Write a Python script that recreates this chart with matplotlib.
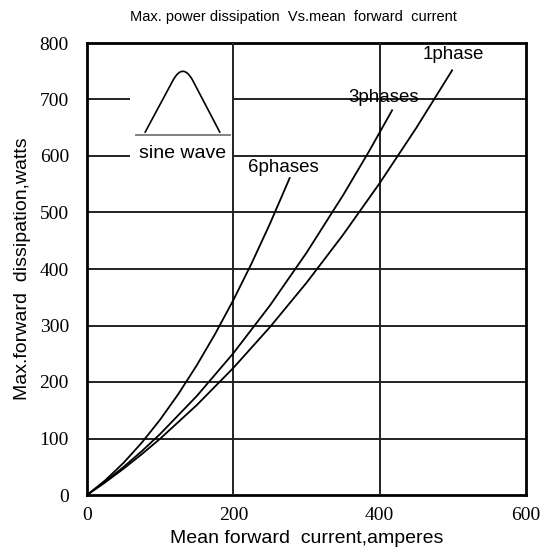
import matplotlib.pyplot as plt
from matplotlib.patches import PathPatch, Rectangle
from matplotlib.path import Path

# current (A) vs max forward dissipation (W)
i_1ph = [0, 25, 50, 75, 100, 150, 200, 250, 300, 350, 400, 450, 499]
p_1ph = [0, 22.5, 46.6, 72.4, 99.7, 159.1, 224.9, 297.1, 375.6, 460.6, 551.9, 649.6, 751.6]

i_3ph = [0, 25, 50, 75, 100, 150, 200, 250, 300, 350, 385, 417]
p_3ph = [0, 23.7, 49.7, 77.7, 108.0, 175.1, 250.9, 335.4, 428.7, 530.6, 607.2, 680.9]

i_6ph = [0, 25, 50, 75, 100, 125, 150, 175, 200, 225, 250, 277]
p_6ph = [0, 26.0, 57.0, 92.8, 133.5, 179.0, 229.5, 284.8, 345.0, 410.0, 480.0, 561.0]

x_ticks = [0, 200, 400, 600]
y_ticks = [0, 100, 200, 300, 400, 500, 600, 700, 800]

plt.rcParams['font.family'] = ['Liberation Sans', 'DejaVu Sans']

fig = plt.figure(figsize=(5.41, 5.58), dpi=100)
ax = fig.add_axes([87 / 541, 63 / 558, 439 / 541, 452 / 558])

ax.set_xlim(0, 600)
ax.set_ylim(0, 800)
ax.set_xticks(x_ticks)
ax.set_yticks(y_ticks)
ax.tick_params(length=0, labelsize=14)
ax.tick_params(axis='y', pad=13)
ax.tick_params(axis='x', pad=9)
for lab in ax.get_xticklabels() + ax.get_yticklabels():
    lab.set_family('Liberation Serif')
for s in ax.spines.values():
    s.set_linewidth(2)
    s.set_color('black')

# grid
for y in y_ticks[1:-1]:
    ax.axhline(y, color='#222222', lw=1.4, zorder=1)
for x in x_ticks[1:-1]:
    ax.axvline(x, color='#222222', lw=1.4, zorder=3)

# white box behind the inset waveform
ax.add_patch(Rectangle((59, 575), 140, 220, facecolor='white', edgecolor='none', zorder=2))

# curves
for xs, ys in [(i_1ph, p_1ph), (i_3ph, p_3ph), (i_6ph, p_6ph)]:
    ax.plot(xs, ys, color='black', lw=1.3, zorder=3)

ax.text(500, 779, '1phase', ha='center', va='center', fontsize=13.5, zorder=4)
ax.text(406, 704, '3phases', ha='center', va='center', fontsize=13.5, zorder=4)
ax.text(268, 580, '6phases', ha='center', va='center', fontsize=13.5, zorder=4)

# inset: sine wave symbol
ax.plot([67, 195], [637, 637], color='#777777', lw=1.3, zorder=3)
verts = [(79, 641), (118, 735), (131, 765), (144, 735), (182, 641)]
codes = [Path.MOVETO, Path.LINETO, Path.CURVE3, Path.CURVE3, Path.LINETO]
ax.add_patch(PathPatch(Path(verts, codes), facecolor='none', edgecolor='black', lw=1.2, zorder=3))
ax.text(130, 605, 'sine wave', ha='center', va='center', fontsize=14, zorder=4)

ax.set_xlabel('Mean forward  current,amperes', fontsize=14, labelpad=4)
ax.set_ylabel('Max.forward  dissipation,watts', fontsize=14, labelpad=6)
fig.text(293 / 541, 1 - 17 / 558, 'Max. power dissipation  Vs.mean  forward  current',
         ha='center', va='center', fontsize=10.5,
         family=['Liberation Sans Narrow', 'Liberation Sans'])

fig.savefig('out.png', dpi=100, facecolor='white')
